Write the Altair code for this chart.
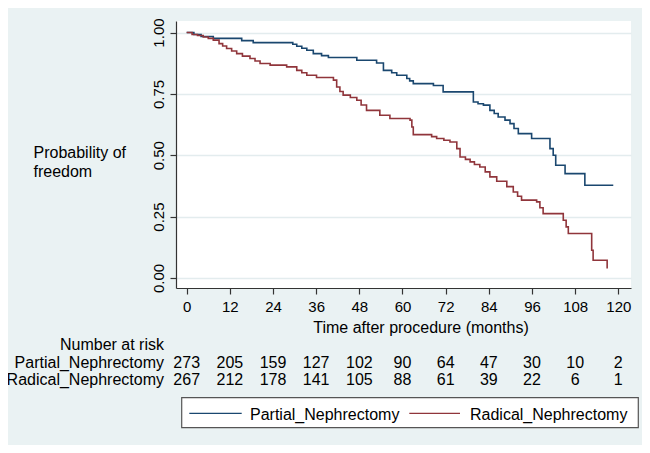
import altair as alt
import pandas as pd

# ---- Kaplan-Meier step data (time in months, survival probability) ----
partial_t = [0, 2, 4, 7.4, 15.3, 18.5, 29.5, 30.6, 32, 33.4, 35.2, 37.5, 39.4, 47.3,
             52.8, 54.7, 57, 58.4, 61.2, 62, 63, 68.6, 71.3, 79.7, 81, 82.5, 84.3,
             85.5, 86.6, 88.5, 89.9, 91, 92.2, 95.9, 101, 101.9, 102.6, 105.2, 110.7, 118.6]
partial_s = [1.0, 0.992, 0.984, 0.976, 0.967, 0.959, 0.952, 0.944, 0.936, 0.928, 0.914,
             0.906, 0.898, 0.887, 0.876, 0.846, 0.836, 0.826, 0.813, 0.803, 0.792, 0.784,
             0.758, 0.717, 0.710, 0.704, 0.683, 0.670, 0.656, 0.643, 0.629, 0.609, 0.588,
             0.568, 0.527, 0.500, 0.459, 0.425, 0.378, 0.378]

radical_t = [0, 1.5, 3, 4.6, 6, 7.4, 9, 10, 11.1, 12.5, 13.9, 15.5, 17.6, 19, 20.4, 23.2,
             27.8, 30.6, 32, 33.4, 36.1, 40.8, 41.7, 42.6, 43.5, 45.5, 47.3, 48.5, 50,
             53.7, 56.5, 62.1, 62.6, 63, 68.1, 69.5, 71.5, 73.2, 75.1, 76, 77.5, 78.8,
             80, 81.5, 83, 84.3, 86.2, 89, 90.8, 92, 93.1, 97.3, 98.2, 99.1, 104.7,
             105.5, 106.1, 112.6, 113, 116.9]
radical_s = [1.0, 0.992, 0.988, 0.982, 0.976, 0.969, 0.955, 0.945, 0.935, 0.925, 0.914,
             0.904, 0.894, 0.884, 0.874, 0.867, 0.860, 0.846, 0.836, 0.826, 0.817, 0.806,
             0.778, 0.760, 0.745, 0.735, 0.724, 0.705, 0.683, 0.663, 0.650, 0.643, 0.615,
             0.584, 0.576, 0.568, 0.561, 0.554, 0.527, 0.493, 0.483, 0.473, 0.462, 0.452,
             0.432, 0.412, 0.394, 0.372, 0.350, 0.333, 0.317, 0.310, 0.286, 0.262, 0.235,
             0.208, 0.181, 0.113, 0.072, 0.038]

groups = ["Partial_Nephrectomy", "Radical_Nephrectomy"]
colors = ["#1a476f", "#90353b"]

risk_times = [0, 12, 24, 36, 48, 60, 72, 84, 96, 108, 120]
risk_partial = [273, 205, 159, 127, 102, 90, 64, 47, 30, 10, 2]
risk_radical = [267, 212, 178, 141, 105, 88, 61, 39, 22, 6, 1]
y_ticks = [0, 0.25, 0.5, 0.75, 1.0]

FONT = "Liberation Sans"
BG = "#EAF2F3"

curves = pd.concat([
    pd.DataFrame({"time": partial_t, "surv": partial_s, "group": groups[0]}),
    pd.DataFrame({"time": radical_t, "surv": radical_s, "group": groups[1]}),
])

x_scale = alt.Scale(domain=[-2.97, 123.53], nice=False, zero=False)
y_scale = alt.Scale(domain=[-0.041, 1.047], nice=False, zero=False)

lines = alt.Chart(curves).mark_line(interpolate="step-after", strokeWidth=1.6).encode(
    x=alt.X("time:Q", scale=x_scale,
            axis=alt.Axis(values=risk_times, title="Time after procedure (months)",
                          titleX=244.5, titleY=44, titleAlign="center",
                          titleBaseline="alphabetic", titleFontSize=16,
                          titleFontWeight="normal", grid=False, tickSize=6,
                          labelPadding=5, labelFontSize=15)),
    y=alt.Y("surv:Q", scale=y_scale,
            axis=alt.Axis(values=y_ticks, format=".2f", title=["Probability of", "freedom"],
                          titleAngle=0, titleAlign="left", titleBaseline="alphabetic",
                          titleX=-143, titleY=136, titleLineHeight=19.7,
                          titleFontSize=16, titleFontWeight="normal",
                          labelAngle=270, labelAlign="center", labelBaseline="bottom",
                          labelPadding=4, labelFontSize=15, tickSize=6,
                          grid=True, gridColor="#E3ECEE", gridWidth=1.6)),
    color=alt.Color("group:N", scale=alt.Scale(domain=groups, range=colors), legend=None),
)

risk_df = pd.DataFrame({"time": risk_times, "p": risk_partial, "r": risk_radical})

risk_p = alt.Chart(risk_df).mark_text(fontSize=16, align="center", baseline="alphabetic",
                                      color="black").encode(
    x=alt.X("time:Q", scale=x_scale), y=alt.value(347), text="p:Q")
risk_r = alt.Chart(risk_df).mark_text(fontSize=16, align="center", baseline="alphabetic",
                                      color="black").encode(
    x=alt.X("time:Q", scale=x_scale), y=alt.value(364), text="r:Q")

row_labels = ["Number at risk"] + groups
row_y = [329, 347, 364]
label_layers = []
for lab, yy in zip(row_labels, row_y):
    label_layers.append(
        alt.Chart(pd.DataFrame({"label": [lab]})).mark_text(
            fontSize=16, align="right", baseline="alphabetic", color="black"
        ).encode(x=alt.value(-12), y=alt.value(yy), text="label:N")
    )

# ---- legend (drawn box with line keys) ----
leg_df = pd.DataFrame({"group": groups})
legend_box = alt.Chart(leg_df.head(1)).mark_rect(
    fill="white", stroke="#555555", strokeWidth=1.2
).encode(x=alt.value(5.7), x2=alt.value(462.3), y=alt.value(376.7), y2=alt.value(406.7))

key_x = [(13.3, 65.7, 74), (233.3, 284, 294)]
legend_layers = [legend_box]
for g, c, (x1, x2, tx) in zip(groups, colors, key_x):
    d = pd.DataFrame({"group": [g]})
    legend_layers.append(
        alt.Chart(d).mark_rule(color=c, strokeWidth=1.3).encode(
            x=alt.value(x1), x2=alt.value(x2), y=alt.value(392.3))
    )
    legend_layers.append(
        alt.Chart(d).mark_text(fontSize=16, align="left", baseline="alphabetic",
                               color="black").encode(
            x=alt.value(tx), y=alt.value(398.5), text="group:N")
    )

chart = alt.layer(lines, risk_p, risk_r, *label_layers, *legend_layers).properties(
    width=455, height=267,
    autosize=alt.AutoSizeParams(type="none"),
    padding={"left": 168, "top": 13, "right": 11, "bottom": 157},
    background=BG,
).configure(font=FONT).configure_view(fill="white", stroke=None).configure_axis(
    domainColor="#333333", tickColor="#333333", labelColor="black", titleColor="black",
    labelFont=FONT, titleFont=FONT, domainWidth=1.2, tickWidth=1.2
)

chart.save("out.html", embed_options={"renderer": "svg", "actions": False})
